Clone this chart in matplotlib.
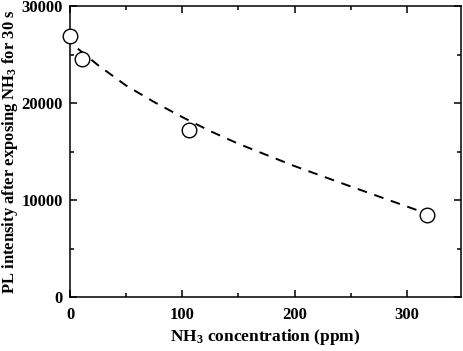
import matplotlib
matplotlib.use("Agg")
import matplotlib.pyplot as plt
from matplotlib.ticker import MultipleLocator

# measured points
conc = [0, 11, 106, 318]
pl = [26900, 24550, 17200, 8500]

# dashed fit line
fit_x = [7, 25, 50, 75, 100, 125, 150, 200, 250, 313]
fit_y = [25600, 23900, 21800, 20100, 18550, 17100, 15800, 13500, 11400, 8800]

plt.rcParams['font.family'] = 'Liberation Serif'
plt.rcParams['font.weight'] = 'bold'
plt.rcParams['mathtext.fontset'] = 'custom'
plt.rcParams['mathtext.rm'] = 'Liberation Serif:bold'
plt.rcParams['mathtext.default'] = 'rm'

fig = plt.figure(figsize=(4.63, 3.51), dpi=100)
ax = fig.add_axes([0.1512, 0.1538, 0.8438, 0.829])

ax.plot(fit_x, fit_y, color='black', linestyle=(0, (5, 4)), linewidth=1.4, zorder=2)
ax.plot(conc, pl, linestyle='none', marker='o', markersize=10.5,
        markerfacecolor='white', markeredgecolor='black', markeredgewidth=1.0,
        clip_on=False, zorder=3)

ax.set_xlim(0, 348)
ax.set_ylim(0, 30000)
ax.xaxis.set_major_locator(MultipleLocator(100))
ax.xaxis.set_minor_locator(MultipleLocator(50))
ax.yaxis.set_major_locator(MultipleLocator(10000))
ax.yaxis.set_minor_locator(MultipleLocator(5000))
ax.tick_params(which='both', direction='in', top=True, right=True, width=1.1)
ax.tick_params(which='major', length=5, labelsize=12)
ax.tick_params(axis='x', which='major', pad=7)
ax.tick_params(axis='y', which='major', pad=5)
ax.tick_params(which='minor', length=3)
for s in ax.spines.values():
    s.set_linewidth(1.1)

ax.set_xlabel('NH$_3$ concentration (ppm)', fontsize=12.5, fontweight='bold', labelpad=3)
ax.set_ylabel('PL intensity after exposing NH$_3$ for 30 s', fontsize=12, fontweight='bold', labelpad=1)

fig.savefig('out.png', dpi=100)
